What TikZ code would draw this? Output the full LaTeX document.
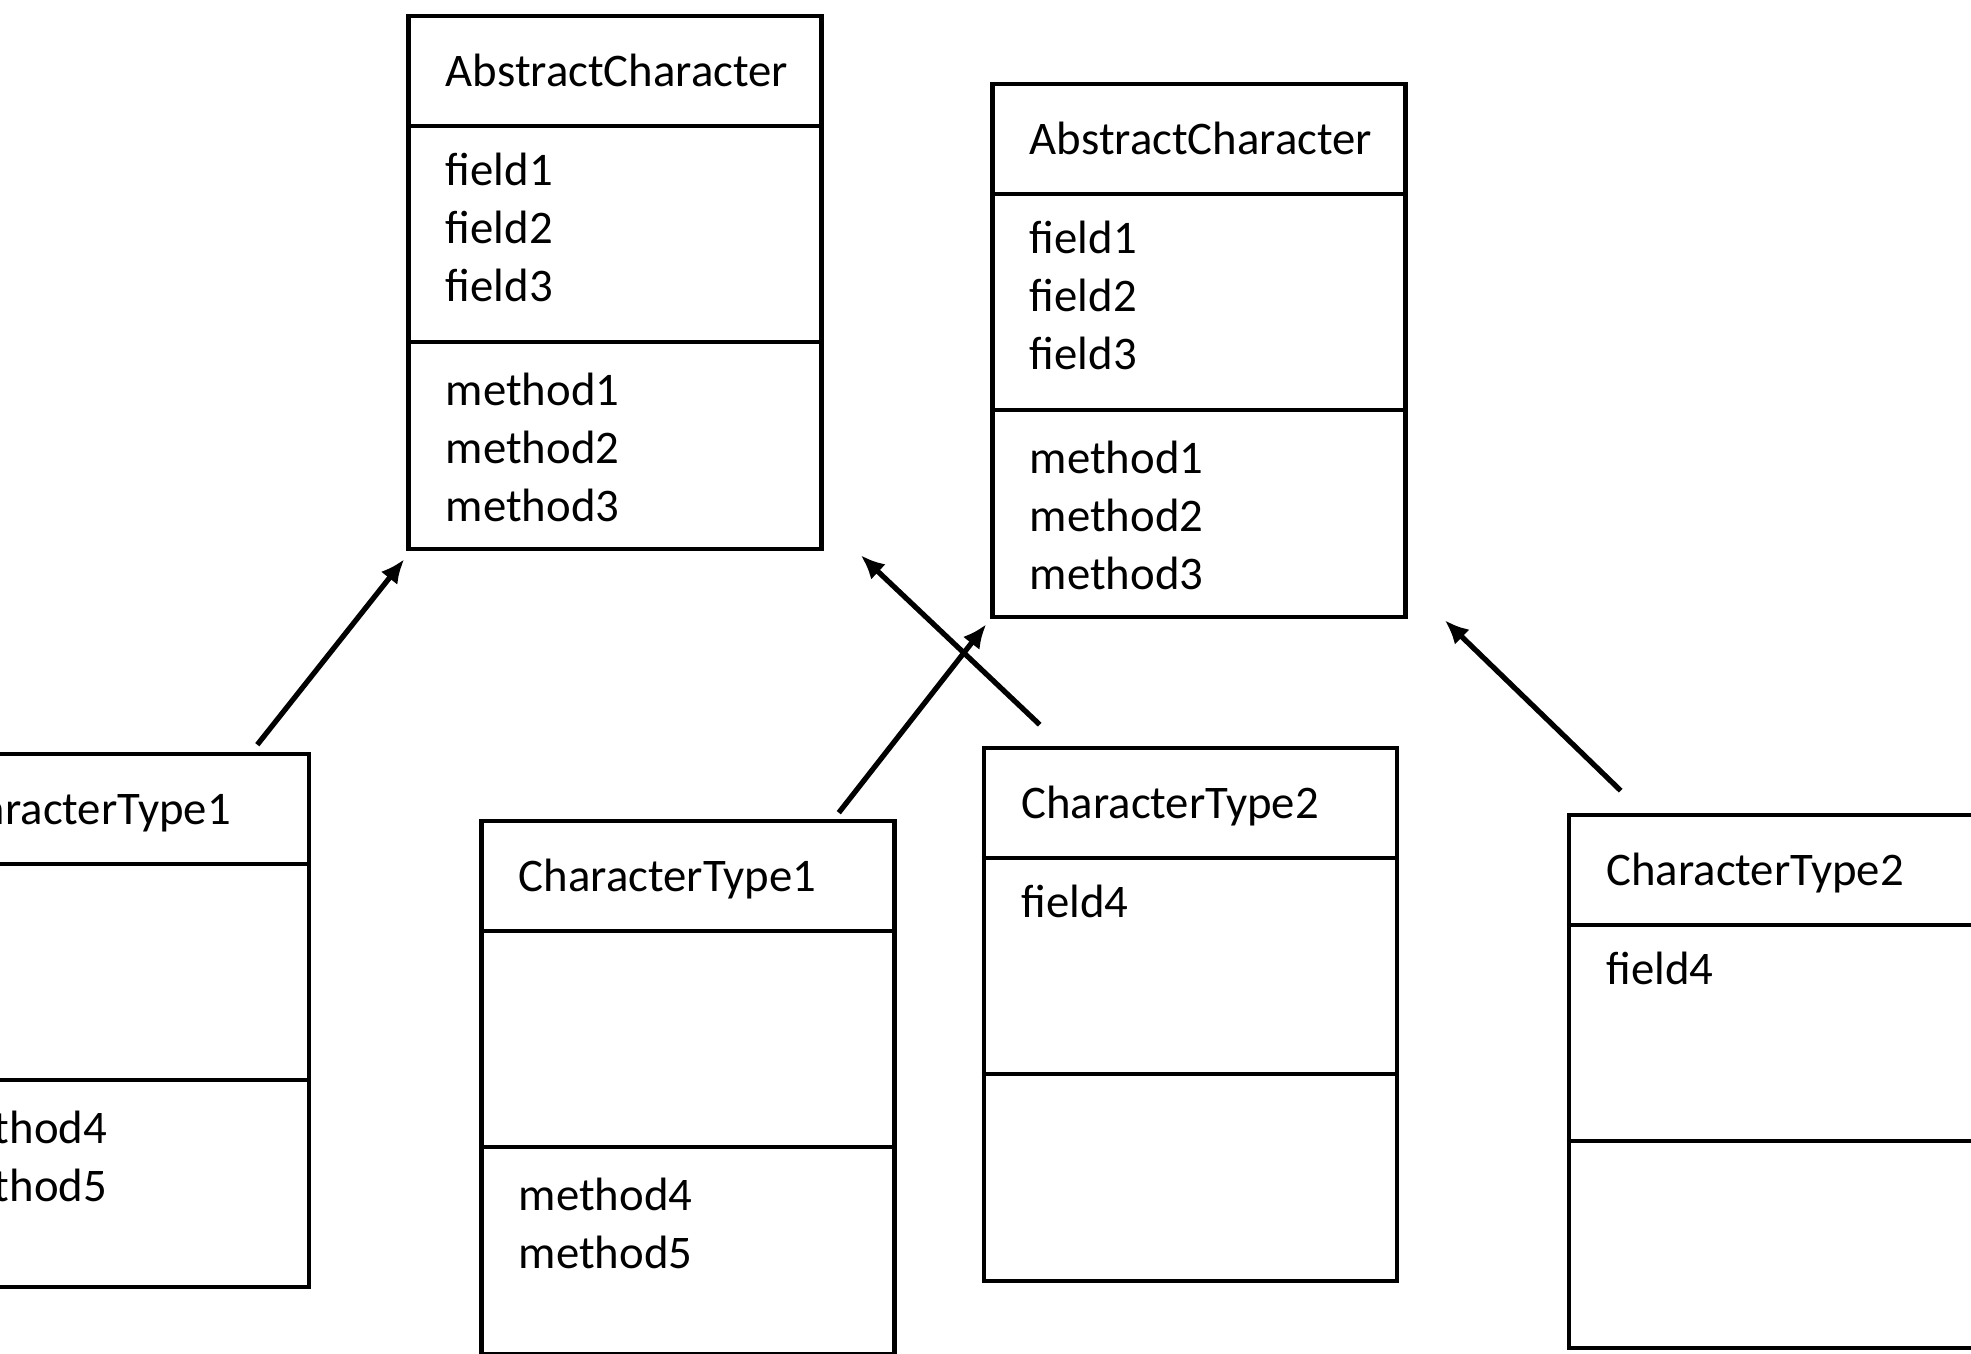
\documentclass[tikz,border=0pt]{standalone}
\usepackage{fontspec}
\setmainfont{Carlito}
\usetikzlibrary{arrows.meta,positioning}

\begin{document}
\begin{tikzpicture}[
        font=\fontsize{13.3}{16.45}\selectfont,
        cls/.style={draw, line width=1.3pt, minimum width=4.13cm, minimum height=5.33cm, inner sep=0pt},
        sep/.style={line width=1.2pt},
        title/.style={anchor=base west, inner sep=0pt},
        member/.style={anchor=base west, inner sep=0pt},
        inherit/.style={-{Latex[length=0.24cm,width=0.21cm]}, line width=1.5pt}
    ]
    \useasboundingbox (0,0) rectangle (19.71,13.54);

    % abstract classes
    \node[cls] (a1) at (6.15,10.715) {};
    \node[cls] (a2) at (11.99,10.035) {};

    % subclasses
    \node[cls] (c1l) at (1.025,3.335) {};
    \node[cls] (c1m) at (6.88,2.665) {};
    \node[cls] (c2m) at (11.905,3.395) {};
    \node[cls] (c2r) at (17.755,2.725) {};

    \foreach \b in {a1,a2,c1l,c1m,c2m,c2r} {
        \draw[sep] ([yshift=-1.12cm]\b.north west) -- ([yshift=-1.12cm]\b.north east);
        \draw[sep] ([yshift=-3.28cm]\b.north west) -- ([yshift=-3.28cm]\b.north east);
    }

    % names
    \node[title] (a1t) at ([shift={(0.39,-0.73)}]a1.north west) {AbstractCharacter};
    \node[title] (a2t) at ([shift={(0.39,-0.73)}]a2.north west) {AbstractCharacter};
    \node[title] (c1lt) at ([shift={(0.39,-0.73)}]c1l.north west) {CharacterType1};
    \node[title] (c1mt) at ([shift={(0.39,-0.73)}]c1m.north west) {CharacterType1};
    \node[title] (c2mt) at ([shift={(0.39,-0.73)}]c2m.north west) {CharacterType2};
    \node[title] (c2rt) at ([shift={(0.39,-0.73)}]c2r.north west) {CharacterType2};

    % fields and methods, one line each
    \foreach \b in {a1,a2} {
        \foreach \t [count=\i] in {field1,field2,field3}
            \node[member] (\b f\i) at ([shift={(0.39,{-1.72-0.578*(\i-1)})}]\b.north west) {\t};
        \foreach \t [count=\i] in {method1,method2,method3}
            \node[member] (\b m\i) at ([shift={(0.39,{-3.92-0.578*(\i-1)})}]\b.north west) {\t};
    }
    \foreach \b in {c1l,c1m} {
        \foreach \t [count=\i] in {method4,method5}
            \node[member] (\b m\i) at ([shift={(0.39,{-3.92-0.578*(\i-1)})}]\b.north west) {\t};
    }
    \foreach \b in {c2m,c2r}
        \node[member] (\b f1) at ([shift={(0.39,-1.72)}]\b.north west) {field4};

    % inheritance arrows
    \draw[inherit] ([shift={(-0.54,0.07)}]c1l.north east) -- ([shift={(-0.02,-0.08)}]a1.south west);
    \draw[inherit] ([shift={(0.58,0.21)}]c2m.north west) -- ([shift={(0.37,-0.04)}]a1.south east);
    \draw[inherit] ([shift={(-0.58,0.06)}]c1m.north east) -- ([shift={(-0.04,-0.05)}]a2.south west);
    \draw[inherit] ([shift={(0.54,0.22)}]c2r.north west) -- ([shift={(0.37,-0.01)}]a2.south east);
\end{tikzpicture}
\end{document}
